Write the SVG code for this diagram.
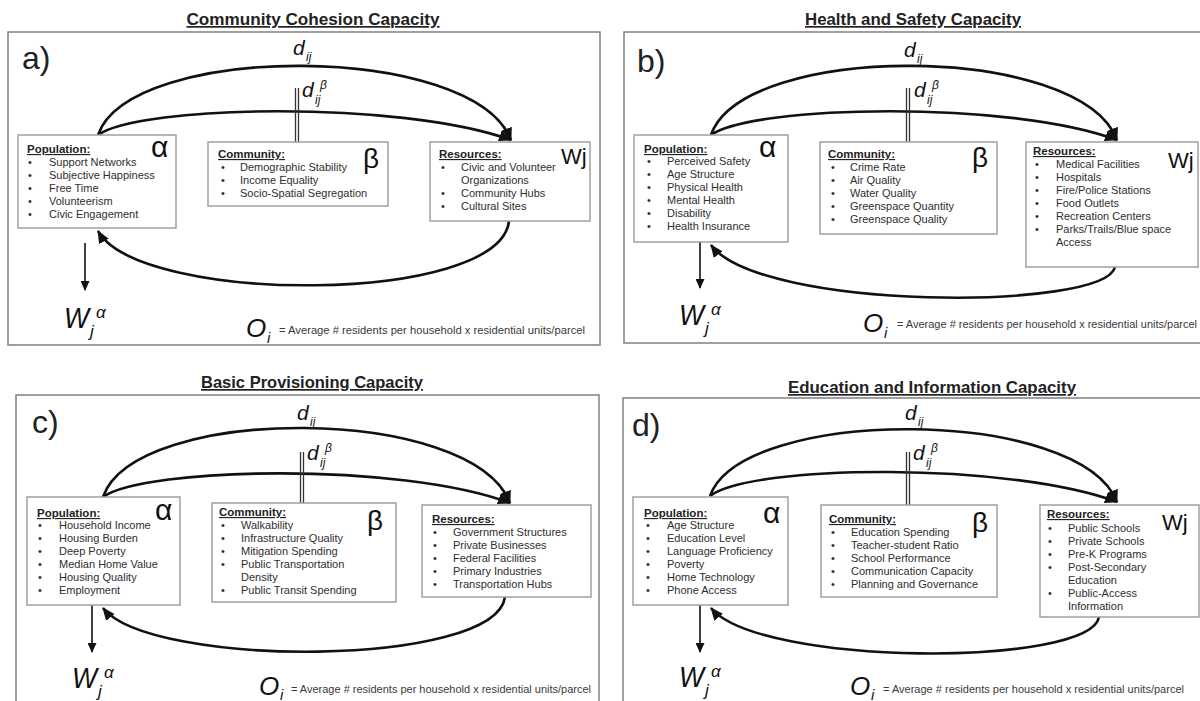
<svg xmlns="http://www.w3.org/2000/svg" width="1200" height="701" viewBox="0 0 1200 701">
<defs>
<marker id="ah" markerUnits="userSpaceOnUse" markerWidth="13" markerHeight="11" refX="12" refY="5.5" orient="auto"><path d="M0,0 L13,5.5 L0,11 z" fill="#111"/></marker>
<marker id="ahs" markerUnits="userSpaceOnUse" markerWidth="10" markerHeight="9" refX="9" refY="4.5" orient="auto"><path d="M0,0 L10,4.5 L0,9 z" fill="#111"/></marker>
<style>
text{font-family:"Liberation Sans",Arial,sans-serif}
.title{font-weight:bold;font-size:17px;text-decoration:underline;fill:#222}
.frame{fill:none;stroke:#808080;stroke-width:1.5}
.box{fill:#fff;stroke:#a0a0a0;stroke-width:1.5}
.plabel{font-size:32px;fill:#222}
.hdr{font-weight:bold;font-size:11.5px;text-decoration:underline;fill:#222}
.item{font-size:11px;fill:#2e2e2e}
.greek{font-size:30px;fill:#111}
.beta{font-size:28px;fill:#111}
.wj{font-size:22px;fill:#111}
.arc{fill:none;stroke:#111;stroke-width:2.6}
.dl{stroke:#333;stroke-width:1.3}
.down{stroke:#111;stroke-width:1.6}
.m{font-style:italic;fill:#111}
.md{font-size:21px}
.ms{font-size:12px}
.mW{font-size:29px}
.mWs{font-size:17px}
.mO{font-size:26px}
.mOs{font-size:15px}
.note{font-size:10px;fill:#3a3a3a}
</style>
</defs>

<!-- Panel a -->
<g id="panel-a">
<text class="title" x="313" y="25" text-anchor="middle" textLength="253" lengthAdjust="spacingAndGlyphs">Community Cohesion Capacity</text>
<rect class="frame" x="8" y="32" width="592" height="313"/>
<text class="plabel" x="22" y="69">a)</text>
<g id="a-connectors">
<path class="arc" d="M98,135 C130,42 473,42 511,140" marker-end="url(#ah)"/>
<path class="arc" d="M98,135 C140,105 400,100 511,140" marker-end="url(#ah)"/>
<path class="arc" d="M509,221 C500,305 140,305 98,231" marker-end="url(#ah)"/>
<line class="dl" x1="295.5" y1="88" x2="295.5" y2="142"/>
<line class="dl" x1="298.5" y1="88" x2="298.5" y2="142"/>
<line class="down" x1="85" y1="243" x2="85" y2="290" marker-end="url(#ahs)"/>
</g>
<g id="a-population">
<rect class="box" x="18" y="135" width="158" height="93"/>
<text class="hdr" x="27" y="153">Population:</text>
<text class="item"><tspan x="28" y="166">•</tspan><tspan x="28" y="179">•</tspan><tspan x="28" y="192">•</tspan><tspan x="28" y="205">•</tspan><tspan x="28" y="218">•</tspan></text>
<text class="item"><tspan x="49" y="166">Support Networks</tspan><tspan x="49" y="179">Subjective Happiness</tspan><tspan x="49" y="192">Free Time</tspan><tspan x="49" y="205">Volunteerism</tspan><tspan x="49" y="218">Civic Engagement</tspan></text>
<text class="greek" x="151" y="157">α</text>
</g>
<g id="a-community">
<rect class="box" x="208" y="142" width="180" height="64"/>
<text class="hdr" x="218" y="158">Community:</text>
<text class="item"><tspan x="221" y="171">•</tspan><tspan x="221" y="184">•</tspan><tspan x="221" y="197">•</tspan></text>
<text class="item"><tspan x="240" y="171">Demographic Stability</tspan><tspan x="240" y="184">Income Equality</tspan><tspan x="240" y="197">Socio-Spatial Segregation</tspan></text>
<text class="beta" x="363" y="168">β</text>
</g>
<g id="a-resources">
<rect class="box" x="430" y="142" width="160" height="79"/>
<text class="hdr" x="439" y="158">Resources:</text>
<text class="item"><tspan x="441" y="171">•</tspan><tspan x="441" y="197">•</tspan><tspan x="441" y="210">•</tspan></text>
<text class="item"><tspan x="461" y="171">Civic and Volunteer</tspan><tspan x="461" y="184">Organizations</tspan><tspan x="461" y="197">Community Hubs</tspan><tspan x="461" y="210">Cultural Sites</tspan></text>
<text class="wj" x="561" y="164">Wj</text>
</g>
<g id="a-labels">
<text class="m md" x="293" y="55">d</text><text class="m ms" x="306" y="61">ij</text>
<text class="m md" x="302" y="97">d</text><text class="m ms" x="315" y="104">ij</text><text class="m ms" x="320" y="89">β</text>
<text class="m mW" x="64" y="328" textLength="25" lengthAdjust="spacingAndGlyphs">W</text><text class="m mWs" x="90" y="337">j</text><text class="m mWs" x="96" y="318">α</text>
<text class="m mO" x="246" y="337">O</text><text class="m mOs" x="267" y="343">i</text>
<text class="note" x="279" y="334" textLength="306" lengthAdjust="spacingAndGlyphs">= Average # residents per household x  residential units/parcel</text>
</g>
</g>

<!-- Panel b -->
<g id="panel-b">
<text class="title" x="913" y="25" text-anchor="middle" textLength="216" lengthAdjust="spacingAndGlyphs">Health and Safety Capacity</text>
<rect class="frame" x="624" y="32" width="600" height="311"/>
<text class="plabel" x="637" y="72">b)</text>
<g id="b-connectors">
<path class="arc" d="M711,135 C743,42 1080,42 1117,140" marker-end="url(#ah)"/>
<path class="arc" d="M711,135 C753,105 1010,100 1117,140" marker-end="url(#ah)"/>
<path class="arc" d="M1115,267 C1105,311 760,311 711,245" marker-end="url(#ah)"/>
<line class="dl" x1="906.5" y1="88" x2="906.5" y2="142"/>
<line class="dl" x1="909.5" y1="88" x2="909.5" y2="142"/>
<line class="down" x1="700" y1="242" x2="700" y2="288" marker-end="url(#ahs)"/>
</g>
<g id="b-population">
<rect class="box" x="634" y="135" width="154" height="107"/>
<text class="hdr" x="644" y="153">Population:</text>
<text class="item"><tspan x="647" y="165">•</tspan><tspan x="647" y="178">•</tspan><tspan x="647" y="191">•</tspan><tspan x="647" y="204">•</tspan><tspan x="647" y="217">•</tspan><tspan x="647" y="230">•</tspan></text>
<text class="item"><tspan x="667" y="165">Perceived Safety</tspan><tspan x="667" y="178">Age Structure</tspan><tspan x="667" y="191">Physical Health</tspan><tspan x="667" y="204">Mental Health</tspan><tspan x="667" y="217">Disability</tspan><tspan x="667" y="230">Health Insurance</tspan></text>
<text class="greek" x="759" y="157">α</text>
</g>
<g id="b-community">
<rect class="box" x="820" y="142" width="177" height="92"/>
<text class="hdr" x="828" y="158">Community:</text>
<text class="item"><tspan x="831" y="171">•</tspan><tspan x="831" y="184">•</tspan><tspan x="831" y="197">•</tspan><tspan x="831" y="210">•</tspan><tspan x="831" y="223">•</tspan></text>
<text class="item"><tspan x="850" y="171">Crime Rate</tspan><tspan x="850" y="184">Air Quality</tspan><tspan x="850" y="197">Water Quality</tspan><tspan x="850" y="210">Greenspace Quantity</tspan><tspan x="850" y="223">Greenspace Quality</tspan></text>
<text class="beta" x="972" y="167">β</text>
</g>
<g id="b-resources">
<rect class="box" x="1026" y="142" width="172" height="125"/>
<text class="hdr" x="1033" y="155">Resources:</text>
<text class="item"><tspan x="1035" y="168">•</tspan><tspan x="1035" y="181">•</tspan><tspan x="1035" y="194">•</tspan><tspan x="1035" y="207">•</tspan><tspan x="1035" y="220">•</tspan><tspan x="1035" y="233">•</tspan></text>
<text class="item"><tspan x="1056" y="168">Medical Facilities</tspan><tspan x="1056" y="181">Hospitals</tspan><tspan x="1056" y="194">Fire/Police Stations</tspan><tspan x="1056" y="207">Food Outlets</tspan><tspan x="1056" y="220">Recreation Centers</tspan><tspan x="1056" y="233">Parks/Trails/Blue space</tspan><tspan x="1056" y="246">Access</tspan></text>
<text class="wj" x="1168" y="168">Wj</text>
</g>
<g id="b-labels">
<text class="m md" x="904" y="57">d</text><text class="m ms" x="917" y="63">ij</text>
<text class="m md" x="914" y="97">d</text><text class="m ms" x="927" y="104">ij</text><text class="m ms" x="932" y="89">β</text>
<text class="m mW" x="679" y="325" textLength="25" lengthAdjust="spacingAndGlyphs">W</text><text class="m mWs" x="705" y="334">j</text><text class="m mWs" x="711" y="315">α</text>
<text class="m mO" x="863" y="332">O</text><text class="m mOs" x="884" y="338">i</text>
<text class="note" x="897" y="328" textLength="300" lengthAdjust="spacingAndGlyphs">= Average # residents per household x  residential units/parcel</text>
</g>
</g>

<!-- Panel c -->
<g id="panel-c">
<text class="title" x="312" y="388" text-anchor="middle" textLength="222" lengthAdjust="spacingAndGlyphs">Basic Provisioning Capacity</text>
<rect class="frame" x="16" y="395" width="583" height="320"/>
<text class="plabel" x="32" y="433">c)</text>
<g id="c-connectors">
<path class="arc" d="M103,497 C135,404 472,404 510,503" marker-end="url(#ah)"/>
<path class="arc" d="M103,497 C145,467 400,462 510,503" marker-end="url(#ah)"/>
<path class="arc" d="M505,597 C495,668 150,668 103,608" marker-end="url(#ah)"/>
<line class="dl" x1="300.5" y1="452" x2="300.5" y2="503"/>
<line class="dl" x1="303.5" y1="452" x2="303.5" y2="503"/>
<line class="down" x1="92" y1="605" x2="92" y2="652" marker-end="url(#ahs)"/>
</g>
<g id="c-population">
<rect class="box" x="27" y="497" width="153" height="108"/>
<text class="hdr" x="37" y="517">Population:</text>
<text class="item"><tspan x="38" y="529">•</tspan><tspan x="38" y="542">•</tspan><tspan x="38" y="555">•</tspan><tspan x="38" y="568">•</tspan><tspan x="38" y="581">•</tspan><tspan x="38" y="594">•</tspan></text>
<text class="item"><tspan x="59" y="529">Household Income</tspan><tspan x="59" y="542">Housing Burden</tspan><tspan x="59" y="555">Deep Poverty</tspan><tspan x="59" y="568">Median Home Value</tspan><tspan x="59" y="581">Housing Quality</tspan><tspan x="59" y="594">Employment</tspan></text>
<text class="greek" x="155" y="520">α</text>
</g>
<g id="c-community">
<rect class="box" x="212" y="503" width="184" height="99"/>
<text class="hdr" x="219" y="516">Community:</text>
<text class="item"><tspan x="221" y="529">•</tspan><tspan x="221" y="542">•</tspan><tspan x="221" y="555">•</tspan><tspan x="221" y="568">•</tspan><tspan x="221" y="594">•</tspan></text>
<text class="item"><tspan x="241" y="529">Walkability</tspan><tspan x="241" y="542">Infrastructure Quality</tspan><tspan x="241" y="555">Mitigation Spending</tspan><tspan x="241" y="568">Public Transportation</tspan><tspan x="241" y="581">Density</tspan><tspan x="241" y="594">Public Transit Spending</tspan></text>
<text class="beta" x="367" y="530">β</text>
</g>
<g id="c-resources">
<rect class="box" x="422" y="505" width="169" height="92"/>
<text class="hdr" x="432" y="523">Resources:</text>
<text class="item"><tspan x="433" y="536">•</tspan><tspan x="433" y="549">•</tspan><tspan x="433" y="562">•</tspan><tspan x="433" y="575">•</tspan><tspan x="433" y="588">•</tspan></text>
<text class="item"><tspan x="453" y="536">Government Structures</tspan><tspan x="453" y="549">Private Businesses</tspan><tspan x="453" y="562">Federal Facilities</tspan><tspan x="453" y="575">Primary Industries</tspan><tspan x="453" y="588">Transportation Hubs</tspan></text>
</g>
<g id="c-labels">
<text class="m md" x="297" y="420">d</text><text class="m ms" x="310" y="426">ij</text>
<text class="m md" x="307" y="460">d</text><text class="m ms" x="320" y="467">ij</text><text class="m ms" x="325" y="452">β</text>
<text class="m mW" x="72" y="688" textLength="25" lengthAdjust="spacingAndGlyphs">W</text><text class="m mWs" x="98" y="697">j</text><text class="m mWs" x="104" y="678">α</text>
<text class="m mO" x="259" y="695">O</text><text class="m mOs" x="280" y="700">i</text>
<text class="note" x="291" y="693" textLength="300" lengthAdjust="spacingAndGlyphs">= Average # residents per household x  residential units/parcel</text>
</g>
</g>

<!-- Panel d -->
<g id="panel-d">
<text class="title" x="932" y="393" text-anchor="middle" textLength="288" lengthAdjust="spacingAndGlyphs">Education and Information Capacity</text>
<rect class="frame" x="623" y="398" width="600" height="320"/>
<text class="plabel" x="632" y="436">d)</text>
<g id="d-connectors">
<path class="arc" d="M710,496 C742,406 1080,406 1117,502" marker-end="url(#ah)"/>
<path class="arc" d="M710,496 C752,464 1010,462 1117,502" marker-end="url(#ah)"/>
<path class="arc" d="M1099,617 C1090,667 760,667 711,608" marker-end="url(#ah)"/>
<line class="dl" x1="906.5" y1="452" x2="906.5" y2="505"/>
<line class="dl" x1="909.5" y1="452" x2="909.5" y2="505"/>
<line class="down" x1="700" y1="605" x2="700" y2="652" marker-end="url(#ahs)"/>
</g>
<g id="d-population">
<rect class="box" x="633" y="497" width="155" height="108"/>
<text class="hdr" x="644" y="517">Population:</text>
<text class="item"><tspan x="646" y="529">•</tspan><tspan x="646" y="542">•</tspan><tspan x="646" y="555">•</tspan><tspan x="646" y="568">•</tspan><tspan x="646" y="581">•</tspan><tspan x="646" y="594">•</tspan></text>
<text class="item"><tspan x="667" y="529">Age Structure</tspan><tspan x="667" y="542">Education Level</tspan><tspan x="667" y="555">Language Proficiency</tspan><tspan x="667" y="568">Poverty</tspan><tspan x="667" y="581">Home Technology</tspan><tspan x="667" y="594">Phone Access</tspan></text>
<text class="greek" x="763" y="523">α</text>
</g>
<g id="d-community">
<rect class="box" x="821" y="505" width="176" height="92"/>
<text class="hdr" x="829" y="523">Community:</text>
<text class="item"><tspan x="831" y="536">•</tspan><tspan x="831" y="549">•</tspan><tspan x="831" y="562">•</tspan><tspan x="831" y="575">•</tspan><tspan x="831" y="588">•</tspan></text>
<text class="item"><tspan x="851" y="536">Education Spending</tspan><tspan x="851" y="549">Teacher-student Ratio</tspan><tspan x="851" y="562">School Performance</tspan><tspan x="851" y="575">Communication Capacity</tspan><tspan x="851" y="588">Planning and Governance</tspan></text>
<text class="beta" x="972" y="532">β</text>
</g>
<g id="d-resources">
<rect class="box" x="1040" y="505" width="159" height="112"/>
<text class="hdr" x="1047" y="518">Resources:</text>
<text class="item"><tspan x="1048" y="532">•</tspan><tspan x="1048" y="545">•</tspan><tspan x="1048" y="558">•</tspan><tspan x="1048" y="571">•</tspan><tspan x="1048" y="597">•</tspan></text>
<text class="item"><tspan x="1068" y="532">Public Schools</tspan><tspan x="1068" y="545">Private Schools</tspan><tspan x="1068" y="558">Pre-K Programs</tspan><tspan x="1068" y="571">Post-Secondary</tspan><tspan x="1068" y="584">Education</tspan><tspan x="1068" y="597">Public-Access</tspan><tspan x="1068" y="610">Information</tspan></text>
<text class="wj" x="1162" y="530">Wj</text>
</g>
<g id="d-labels">
<text class="m md" x="905" y="420">d</text><text class="m ms" x="918" y="426">ij</text>
<text class="m md" x="913" y="460">d</text><text class="m ms" x="926" y="467">ij</text><text class="m ms" x="931" y="452">β</text>
<text class="m mW" x="679" y="687" textLength="25" lengthAdjust="spacingAndGlyphs">W</text><text class="m mWs" x="705" y="696">j</text><text class="m mWs" x="711" y="677">α</text>
<text class="m mO" x="850" y="695">O</text><text class="m mOs" x="871" y="700">i</text>
<text class="note" x="883" y="693" textLength="301" lengthAdjust="spacingAndGlyphs">= Average # residents per household x  residential units/parcel</text>
</g>
</g>
</svg>
